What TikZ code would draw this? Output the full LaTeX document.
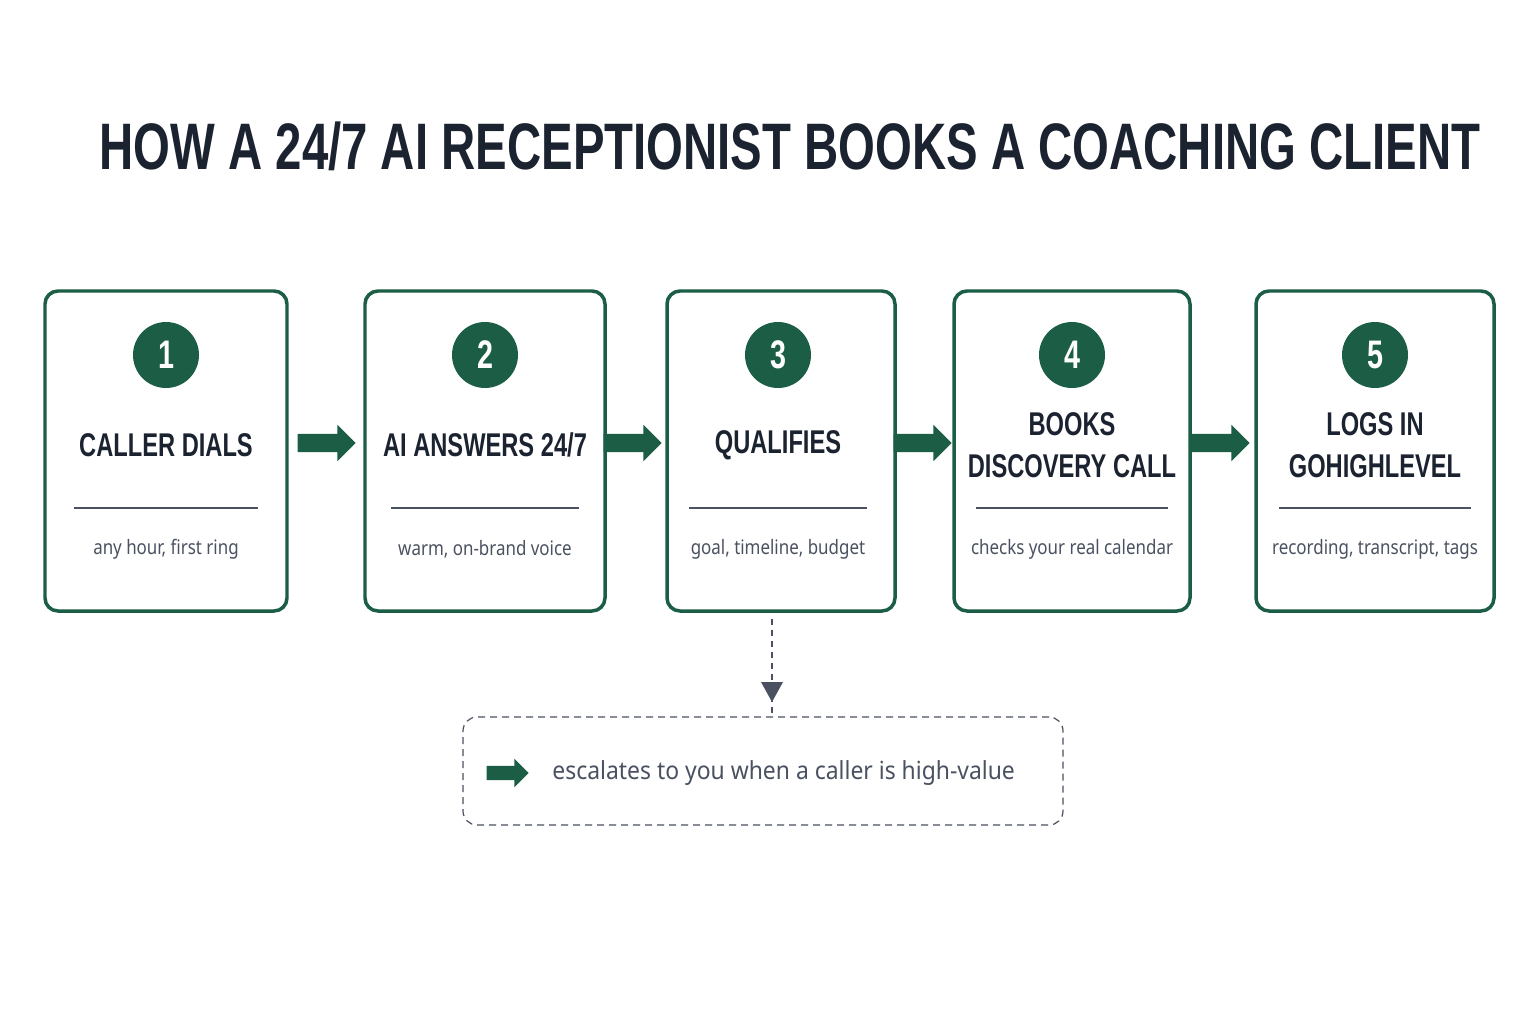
\documentclass[tikz,border=0pt]{standalone}
\usepackage{fontspec}
\setmainfont{Noto Sans}
\newfontfamily\condfont{Liberation Sans}[FakeStretch=0.72]
\usetikzlibrary{shapes.arrows,positioning}
\definecolor{stepgreen}{HTML}{1B5E45}
\definecolor{inkdark}{HTML}{1C2330}
\definecolor{inkgrey}{HTML}{4A5160}
\tikzset{
  step/.style={draw=stepgreen,line width=3.5pt,rounded corners=13bp,fill=white,minimum width=#1,minimum height=320bp},
  badge/.style={circle,fill=stepgreen,minimum size=66bp,inner sep=0pt,text=white,font=\condfont\bfseries\fontsize{40}{40}\selectfont},
  heading/.style={text=inkdark,align=center,font=\condfont\bfseries\fontsize{33}{42}\selectfont},
  detail/.style={text=inkgrey,font=\fontsize{20}{22}\selectfont\addfontfeatures{FakeStretch=0.85}},
  fat/.style={single arrow,fill=stepgreen,minimum height=58bp,inner sep=9bp,single arrow head extend=9bp,single arrow tip angle=90},
}
\begin{document}
\begin{tikzpicture}[x=1bp,y=-1bp]
\useasboundingbox[fill=white] (0,0) rectangle (1536,1024);
%%
\node[text=inkdark,font=\condfont\bfseries\fontsize{66}{66}\selectfont] (title) at (790,146) {HOW A 24/7 AI RECEPTIONIST BOOKS A COACHING CLIENT};
%% steps
\node[step=242bp] (box_1) at (166,451) {};
\node[step=240bp] (box_2) at (485,451) {};
\node[step=228bp] (box_3) at (781,451) {};
\node[step=236bp] (box_4) at (1072,451) {};
\node[step=238bp] (box_5) at (1375,451) {};
\foreach \i/\x/\w/\head/\txt in {1/166/184/{CALLER DIALS}/{any hour, first ring},2/485/188/{AI ANSWERS 24/7}/{warm, on-brand voice},3/778/178/{QUALIFIES}/{goal, timeline, budget},4/1072/192/{BOOKS\\DISCOVERY CALL}/{checks your real calendar},5/1375/192/{LOGS IN\\GOHIGHLEVEL}/{recording, transcript, tags}}{
  \node[badge] (badge_\i) at (\x,355) {\i};
  \node[heading] (head_\i) at (\x,445) {\head};
  \draw[inkgrey,line width=1.6pt] (\x-\w/2,508) -- (\x+\w/2,508);
  \node[detail] (note_\i) at (\x,549) {\txt};
}
%% fat arrows
\node[fat] (arr_1) at (322,443) {};
\node[fat] (arr_2) at (628,443) {};
\node[fat] (arr_3) at (918,443) {};
\node[fat] (arr_4) at (1216,443) {};
%% escalation
\node[draw=inkgrey,line width=1.2pt,dash pattern=on 7bp off 5bp,rounded corners=14bp,minimum width=600bp,minimum height=108bp] (escalate) at (763,771) {};
\coordinate (drop) at (772,702);
\draw[inkgrey,line width=1.6pt,dash pattern=on 6bp off 5bp] (box_3.south -| drop) ++(0,6) -- ([yshift=-12bp]drop);
\fill[inkgrey] (drop) -- ++(-11,-20) -- ++(22,0) -- cycle;
\node[fat,minimum height=42bp,inner sep=7bp,single arrow head extend=7bp] (mini) at (504,773) {};
\node[right=20bp of mini,text=inkgrey,font=\fontsize{25}{28}\selectfont\addfontfeatures{FakeStretch=0.92}] (esc_text) {escalates to you when a caller is high-value};
%
\end{tikzpicture}
\end{document}
